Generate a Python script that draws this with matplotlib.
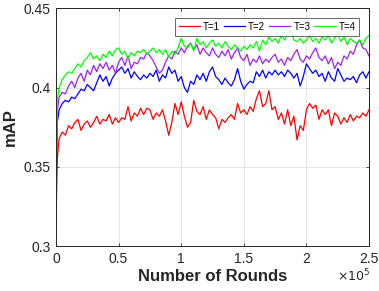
import matplotlib
matplotlib.use("Agg")
import matplotlib.pyplot as plt
import numpy as np

plt.rcParams['font.family'] = ['Liberation Sans', 'DejaVu Sans']

rounds = [0, 1000] + list(range(2500, 250001, 2500))

t1 = [0.315, 0.355,
      0.368, 0.372, 0.370, 0.376, 0.374, 0.378, 0.380, 0.373, 0.377, 0.379,
      0.375, 0.378, 0.382, 0.377, 0.380, 0.379, 0.383, 0.377, 0.381, 0.378,
      0.381, 0.380, 0.388, 0.379, 0.384, 0.382, 0.387, 0.383, 0.387, 0.386,
      0.380, 0.384, 0.382, 0.386, 0.379, 0.370, 0.378, 0.390, 0.383, 0.391,
      0.382, 0.375, 0.378, 0.392, 0.385, 0.383, 0.388, 0.380, 0.386, 0.383,
      0.381, 0.374, 0.380, 0.378, 0.381, 0.383, 0.380, 0.390, 0.384, 0.386,
      0.383, 0.388, 0.385, 0.393, 0.398, 0.388, 0.390, 0.398, 0.386, 0.388,
      0.380, 0.384, 0.377, 0.386, 0.376, 0.382, 0.367, 0.376, 0.373, 0.386,
      0.390, 0.387, 0.389, 0.380, 0.386, 0.383, 0.386, 0.376, 0.384, 0.382,
      0.377, 0.381, 0.378, 0.383, 0.379, 0.382, 0.381, 0.384, 0.382, 0.386]

t2 = [0.330, 0.378,
      0.386, 0.390, 0.392, 0.391, 0.394, 0.393, 0.396, 0.399, 0.398, 0.402,
      0.400, 0.398, 0.403, 0.408, 0.404, 0.407, 0.401, 0.406, 0.409, 0.411,
      0.413, 0.409, 0.412, 0.406, 0.410, 0.407, 0.405, 0.408, 0.406, 0.409,
      0.407, 0.411, 0.404, 0.408, 0.406, 0.413, 0.409, 0.411, 0.404, 0.407,
      0.400, 0.397, 0.404, 0.402, 0.408, 0.405, 0.409, 0.404, 0.410, 0.413,
      0.407, 0.405, 0.402, 0.406, 0.403, 0.401, 0.405, 0.412, 0.404, 0.399,
      0.402, 0.404, 0.403, 0.410, 0.407, 0.411, 0.406, 0.410, 0.408, 0.411,
      0.408, 0.410, 0.407, 0.411, 0.409, 0.406, 0.409, 0.401, 0.407, 0.415,
      0.412, 0.409, 0.411, 0.407, 0.409, 0.404, 0.410, 0.406, 0.404, 0.412,
      0.408, 0.404, 0.406, 0.405, 0.407, 0.403, 0.408, 0.410, 0.406, 0.410]

t3 = [0.340, 0.385,
      0.394, 0.397, 0.396, 0.401, 0.404, 0.400, 0.406, 0.409, 0.404, 0.411,
      0.408, 0.414, 0.410, 0.415, 0.412, 0.416, 0.411, 0.414, 0.409, 0.416,
      0.419, 0.414, 0.420, 0.412, 0.416, 0.415, 0.419, 0.418, 0.422, 0.420,
      0.417, 0.413, 0.409, 0.411, 0.416, 0.420, 0.418, 0.423, 0.421, 0.425,
      0.422, 0.426, 0.428, 0.424, 0.427, 0.421, 0.425, 0.422, 0.420, 0.425,
      0.421, 0.419, 0.423, 0.420, 0.424, 0.418, 0.422, 0.425, 0.419, 0.417,
      0.421, 0.414, 0.418, 0.416, 0.420, 0.415, 0.418, 0.416, 0.419, 0.421,
      0.416, 0.418, 0.414, 0.419, 0.417, 0.421, 0.424, 0.418, 0.416, 0.420,
      0.418, 0.422, 0.425, 0.419, 0.417, 0.420, 0.415, 0.419, 0.412, 0.416,
      0.414, 0.420, 0.418, 0.423, 0.421, 0.427, 0.430, 0.425, 0.424, 0.420]

t4 = [0.342, 0.392,
      0.400, 0.405, 0.408, 0.410, 0.409, 0.412, 0.415, 0.413, 0.417, 0.419,
      0.422, 0.418, 0.420, 0.417, 0.421, 0.419, 0.423, 0.420, 0.424, 0.425,
      0.421, 0.423, 0.418, 0.422, 0.420, 0.423, 0.422, 0.424, 0.421, 0.423,
      0.425, 0.422, 0.424, 0.421, 0.424, 0.419, 0.423, 0.421, 0.425, 0.431,
      0.426, 0.425, 0.428, 0.423, 0.431, 0.427, 0.429, 0.425, 0.428, 0.430,
      0.426, 0.428, 0.425, 0.429, 0.426, 0.424, 0.427, 0.425, 0.423, 0.426,
      0.424, 0.427, 0.425, 0.429, 0.423, 0.430, 0.427, 0.432, 0.429, 0.431,
      0.428, 0.433, 0.430, 0.434, 0.436, 0.430, 0.429, 0.431, 0.428, 0.430,
      0.433, 0.429, 0.431, 0.428, 0.432, 0.430, 0.433, 0.428, 0.431, 0.434,
      0.429, 0.432, 0.427, 0.431, 0.429, 0.428, 0.430, 0.427, 0.431, 0.433]

series_labels = ['T=1', 'T=2', 'T=3', 'T=4']
series_colors = ['#ff0000', '#0000ff', '#a020f0', '#00ff00']
xticks = [0, 50000, 100000, 150000, 200000, 250000]
xtick_labels = ['0', '0.5', '1', '1.5', '2', '2.5']
yticks = [0.30, 0.35, 0.40, 0.45]
ytick_labels = ['0.3', '0.35', '0.4', '0.45']

fig = plt.figure(figsize=(3.79, 2.91), dpi=100)
ax = fig.add_axes([0.1478, 0.1536, 0.8259, 0.818])

for ys, lab, col in zip([t1, t2, t3, t4], series_labels, series_colors):
    ax.plot(rounds, ys, color=col, lw=0.9, label=lab)

ax.set_xlim(0, 250000)
ax.set_ylim(0.3, 0.45)
ax.set_xticks(xticks)
ax.set_xticklabels(xtick_labels)
ax.set_yticks(yticks)
ax.set_yticklabels(ytick_labels)
dark = '#262626'
ax.tick_params(direction='in', length=2.5, width=0.6, top=True, right=True,
               labelsize=10, colors=dark, pad=4)
for s in ax.spines.values():
    s.set_color(dark)
    s.set_linewidth(0.7)
ax.grid(True, color='#e0e0e0', lw=0.6)
ax.set_axisbelow(True)

ax.set_xlabel('Number of Rounds', fontsize=12, fontweight='bold', color=dark, labelpad=2)
ax.set_ylabel('mAP', fontsize=12, fontweight='bold', color=dark, labelpad=4)
fig.text(0.89, 0.022, r'$\times10^5$', fontsize=9, color=dark, ha='left', va='bottom')

leg = ax.legend(loc='upper right', ncol=4, fontsize=7, handlelength=2.2,
                handletextpad=0.3, columnspacing=0.4, borderpad=0.4,
                frameon=True, fancybox=False, bbox_to_anchor=(0.985, 0.98))
leg.get_frame().set_edgecolor(dark)
leg.get_frame().set_linewidth(0.6)

fig.savefig('out.png', dpi=100)
